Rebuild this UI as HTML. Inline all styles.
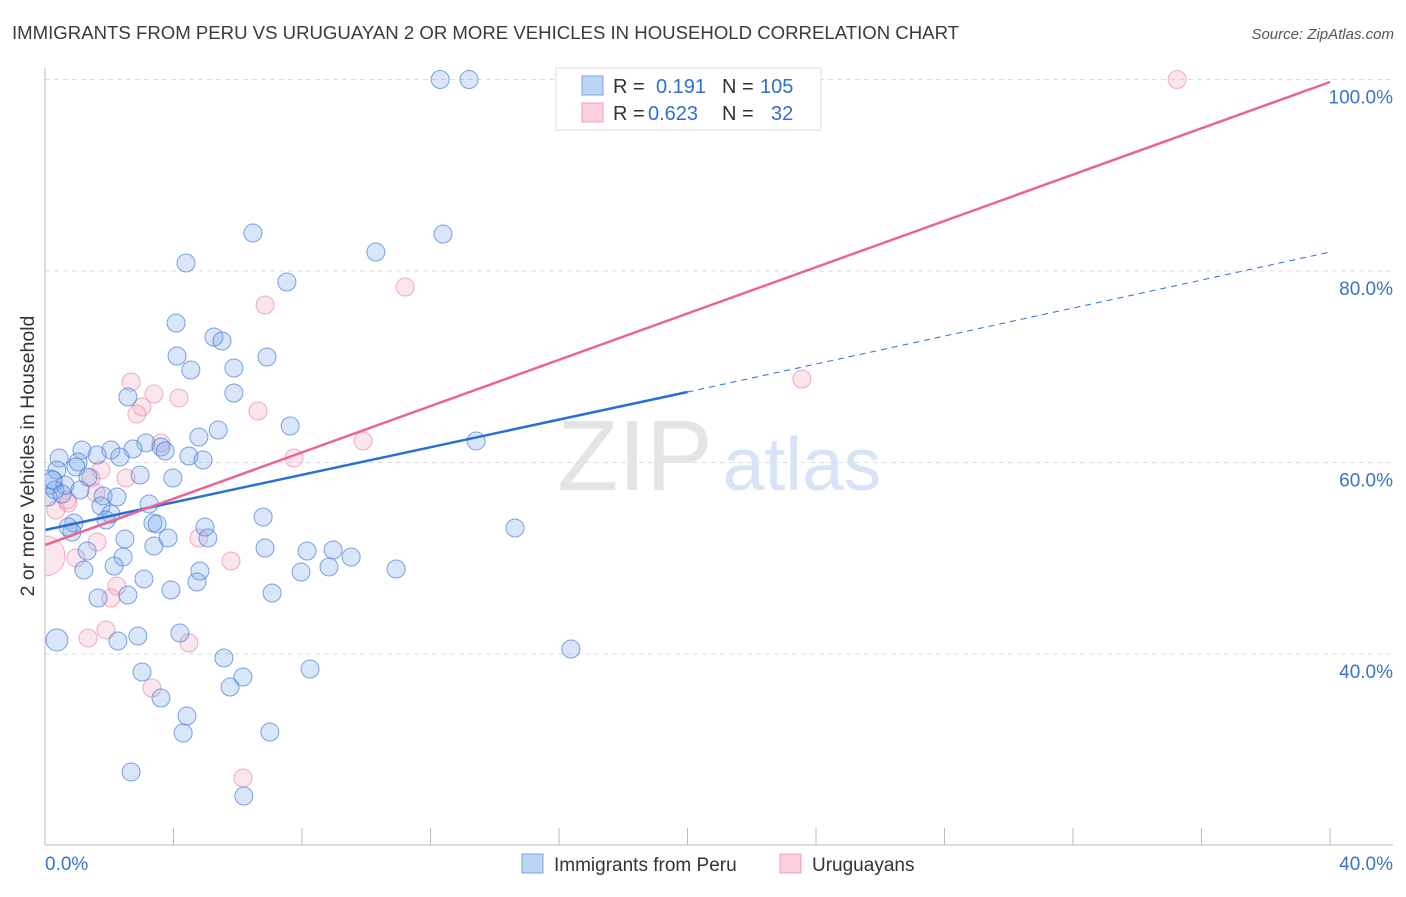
<!DOCTYPE html>
<html><head><meta charset="utf-8"><style>
body{margin:0;background:#fff;font-family:"Liberation Sans",sans-serif;}
svg text{font-family:"Liberation Sans",sans-serif;}
</style></head><body>
<svg id="c" width="1406" height="892" viewBox="0 0 1406 892">
<text x="12" y="39" font-size="18.6" fill="#3a3a3a">IMMIGRANTS FROM PERU VS URUGUAYAN 2 OR MORE VEHICLES IN HOUSEHOLD CORRELATION CHART</text>
<text x="1394" y="39" font-size="15" fill="#555" font-style="italic" text-anchor="end">Source: ZipAtlas.com</text>
<g id="grid"></g>
<text x="635" y="490" font-size="100" fill="#e4e4e4" font-family="Liberation Serif" text-anchor="middle">ZIP</text>
<text x="802" y="490" font-size="75" fill="#d6e4f6" text-anchor="middle">atlas</text>
<clipPath id="pc"><rect x="45" y="60" width="1360" height="785"/></clipPath>
<g id="pts" clip-path="url(#pc)"></g>
<g id="lines"></g>
<line x1="45" y1="68" x2="45" y2="845" stroke="#bbb"/>
<line x1="45" y1="845" x2="1393" y2="845" stroke="#bbb"/>
<g id="ticks"></g>
<text x="34" y="456" font-size="19.5" fill="#333" text-anchor="middle" transform="rotate(-90 34 456)">2 or more Vehicles in Household</text>
<g>
<rect x="556" y="68" width="265" height="62" fill="#fff" stroke="#ddd"/>
<rect x="582" y="76" width="21" height="19" fill="#bcd4f6" stroke="#7aa6e6"/>
<rect x="582" y="103" width="21" height="19" fill="#fccfdc" stroke="#eea0b8"/>
<text x="613" y="93" font-size="20" fill="#333">R = <tspan x="656" fill="#2f6fd0">0.191</tspan><tspan x="722" fill="#333">N = </tspan><tspan x="760" fill="#2f6fd0">105</tspan></text>
<text x="613" y="120" font-size="20" fill="#333">R = <tspan x="648" fill="#2f6fd0">0.623</tspan><tspan x="722" fill="#333">N = </tspan><tspan x="771" fill="#2f6fd0">32</tspan></text>
</g>
<g>
<rect x="522" y="854" width="21" height="19" fill="#bcd4f6" stroke="#7aa6e6"/>
<text x="554" y="871" font-size="19" fill="#333">Immigrants from Peru</text>
<rect x="780" y="854" width="21" height="19" fill="#fccfdc" stroke="#eea0b8"/>
<text x="812" y="871" font-size="19" fill="#333">Uruguayans</text>
</g>
</svg>
<script>
const xTicks=[0,4,8,12,16,20,24,28,32,36,40];
const yTicks=[40,60,80,100];
const yTickLabels=["40.0%","60.0%","80.0%","100.0%"];
const xEdgeLabels=["0.0%","40.0%"];
const peruX=[12.30,13.20,6.47,12.39,10.30,4.39,7.53,4.08,5.26,5.51,4.11,6.91,4.54,5.88,5.88,2.58,7.63,5.39,4.79,13.42,3.14,3.61,1.15,2.05,1.62,2.33,2.74,3.74,4.48,4.92,0.44,1.03,0.37,0.96,1.34,0.16,0.62,0.31,1.09,1.81,2.24,2.96,3.98,3.24,1.74,2.05,1.90,0.90,0.84,3.36,3.49,6.79,14.63,4.98,2.49,3.83,3.39,5.07,6.85,8.16,8.97,9.53,2.43,1.31,1.21,2.15,4.82,10.93,8.84,7.97,3.08,4.73,3.92,7.07,2.58,1.65,16.37,0.37,2.27,2.89,4.20,5.57,3.02,8.25,6.16,5.76,3.61,4.42,4.30,7.00,2.68,6.19,0.25,0.09,0.53,0.72];
const peruY=[100,100,83.97,83.86,81.98,80.84,78.85,74.57,73.11,72.69,71.12,71.02,69.66,69.87,67.26,66.84,63.81,63.39,62.66,62.25,62.04,61.62,61.31,61.31,60.78,60.57,61.41,61.20,60.68,60.26,60.47,60.05,59.22,59.53,58.49,57.96,57.65,57.13,57.13,56.50,56.40,58.69,58.38,55.67,55.46,54.62,53.99,53.68,52.74,53.68,53.58,54.31,53.16,53.26,52.01,52.11,51.28,52.11,51.07,50.76,50.86,50.13,50.13,50.76,48.77,49.19,48.67,48.88,49.09,48.56,47.83,47.52,46.68,46.37,46.16,45.85,40.52,41.46,41.36,41.88,42.19,39.58,38.12,38.43,37.60,36.55,35.40,33.52,31.75,31.85,27.68,25.17,58.17,56.40,56.71,53.26];
const uruX=[35.24,11.21,6.85,23.56,2.68,3.39,3.02,2.86,4.17,6.63,9.90,3.61,7.75,1.74,1.43,0.68,0.34,1.59,2.52,1.62,0.96,2.24,2.05,1.90,1.34,4.48,5.79,4.79,3.33,6.16,0.00,0.72];
const uruY=[100,78.33,76.45,68.72,68.41,67.15,65.80,65.07,66.74,65.38,62.25,62.04,60.47,59.22,58.38,56.08,55.04,56.81,58.38,51.70,50.03,47.10,45.85,42.51,41.67,41.15,49.71,52.11,36.45,27.05,50.23,55.77];
const peruTrendX=[0,20,40];
const peruTrendY=[52.95,67.36,81.98];
const uruTrendX=[0,40];
const uruTrendY=[51.38,99.74];
const NS="http://www.w3.org/2000/svg";
const sx=v=>45+v*32.125;
const sy=v=>654-(v-40)*9.575;
function mk(tag,attrs,parent){const e=document.createElementNS(NS,tag);for(const k in attrs)e.setAttribute(k,attrs[k]);parent.appendChild(e);return e;}
const grid=document.getElementById('grid'),ticks=document.getElementById('ticks');
yTicks.forEach((v,i)=>{
 const l=mk('line',{x1:45,x2:1393,y1:sy(v),y2:sy(v),stroke:'#ddd','stroke-dasharray':'5,4'},grid);
 
 
 const t=mk('text',{x:1393,y:sy(v)+24,'font-size':19,fill:'#3b73c9','text-anchor':'end'},ticks);
 t.textContent=yTickLabels[i];
 
 
});
xTicks.forEach(v=>{
 const l=mk('line',{x1:sx(v),x2:sx(v),y1:828,y2:845,stroke:'#bbb'},ticks);
 
 
});
[[0,'start',xEdgeLabels[0]],[40,'end',xEdgeLabels[1]]].forEach(([v,a,s],i)=>{
 const t=mk('text',{x:sx(v)+(i?63:0),y:870,'font-size':19,fill:'#3b73c9','text-anchor':a},ticks);
 t.textContent=s;
 
 
});
const pts=document.getElementById('pts');
uruX.forEach((x,i)=>{
 const big=(x===0);
 const c=mk('circle',{cx:sx(x),cy:sy(uruY[i]),r:big?20:9,fill:'rgba(245,165,192,0.28)',stroke:'rgba(232,130,162,0.65)','stroke-width':1},pts);
 
 
});
peruX.forEach((x,i)=>{
 const c=mk('circle',{cx:sx(x),cy:sy(peruY[i]),r:(i===77?11:(i===35?12:9)),fill:'rgba(120,165,235,0.28)',stroke:'rgba(70,125,215,0.7)','stroke-width':1},pts);
 
 
});
const lines=document.getElementById('lines');
let a=mk('line',{x1:sx(peruTrendX[0]),y1:sy(peruTrendY[0]),x2:sx(peruTrendX[1]),y2:sy(peruTrendY[1]),stroke:'#2b6fd6','stroke-width':2.5},lines);


let b=mk('line',{x1:sx(peruTrendX[1]),y1:sy(peruTrendY[1]),x2:sx(peruTrendX[2]),y2:sy(peruTrendY[2]),stroke:'#2b6fd6','stroke-width':1,'stroke-dasharray':'6,5'},lines);


let u=mk('line',{x1:sx(uruTrendX[0]),y1:sy(uruTrendY[0]),x2:sx(uruTrendX[1]),y2:sy(uruTrendY[1]),stroke:'#e8668f','stroke-width':2.5},lines);


</script>
</body></html>
